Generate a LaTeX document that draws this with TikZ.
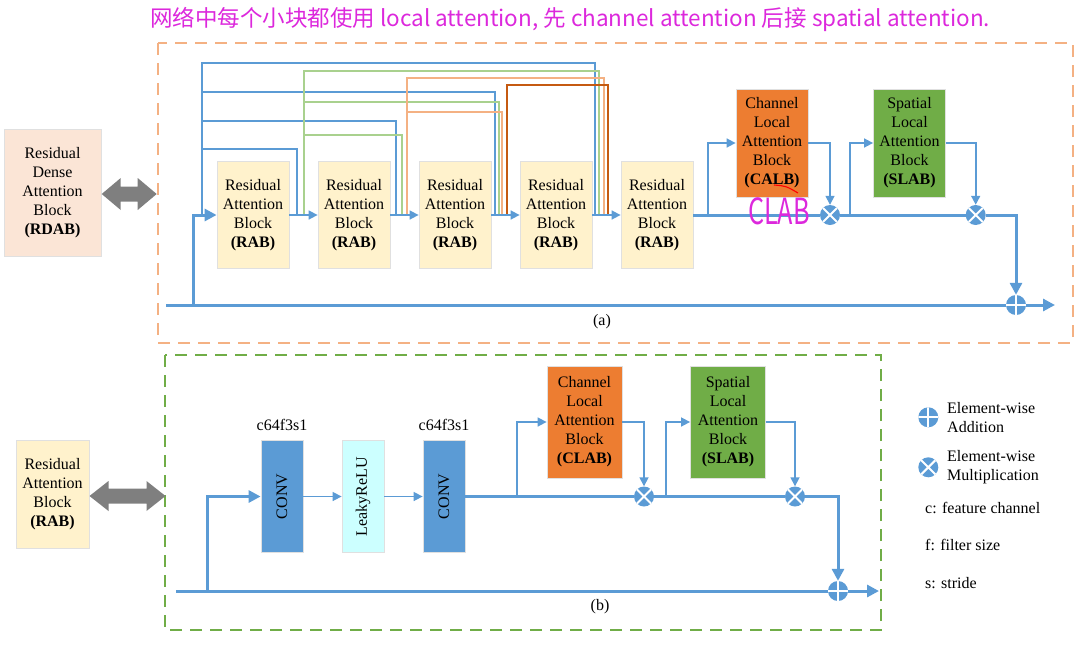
\documentclass[tikz,border=0pt]{standalone}
\usepackage{graphicx}
\usepackage{fontspec}
\setmainfont{Liberation Serif}
\newfontfamily\cjk{Noto Sans CJK SC}
\usetikzlibrary{arrows.meta,calc}
\definecolor{lblue}{HTML}{5B9BD5}
\definecolor{rabfill}{HTML}{FFF2CC}
\definecolor{rdabfill}{HTML}{FBE5D6}
\definecolor{calbfill}{HTML}{ED7D31}
\definecolor{slabfill}{HTML}{70AD47}
\definecolor{leakyfill}{HTML}{CCFFFF}
\definecolor{dashor}{HTML}{F4B183}
\definecolor{dashgr}{HTML}{70AD47}
\definecolor{tapgreen}{HTML}{A9D18E}
\definecolor{tapsalmon}{HTML}{F4B183}
\definecolor{tapdark}{HTML}{C55A11}
\definecolor{garrow}{HTML}{7F7F7F}
\definecolor{hand}{RGB}{220,40,220}
\tikzset{
  blk/.style={draw=black!12, line width=0.8pt, align=center, inner sep=0pt,
    font=\fontsize{16}{19}\selectfont},
  rab/.style={blk, fill=rabfill, minimum width=72pt, minimum height=107pt},
  att/.style={blk, minimum width=72pt, minimum height=108pt},
  attb/.style={blk, minimum width=75pt, minimum height=112pt},
  conv/.style={blk, minimum width=42pt, minimum height=112pt},
  ln/.style={draw=lblue, line width=1.6pt},
  lnk/.style={draw=lblue, line width=3pt},
  arr/.style={-{Triangle[length=9pt,width=9pt]}},
  arrk/.style={-{Triangle[length=12pt,width=12pt]}},
  tap/.style={line width=1.5pt},
  opc/.style={circle, fill=lblue, minimum size=20pt, inner sep=0pt},
  addc/.style={opc, path picture={\draw[white,line width=2pt]
    (path picture bounding box.north) -- (path picture bounding box.south)
    (path picture bounding box.west) -- (path picture bounding box.east);}},
  mulc/.style={opc, path picture={\draw[white,line width=2pt]
    (path picture bounding box.north west) -- (path picture bounding box.south east)
    (path picture bounding box.north east) -- (path picture bounding box.south west);}},
  lbl/.style={font=\fontsize{16}{19}\selectfont, inner sep=0pt},
  leg/.style={font=\fontsize{16}{19}\selectfont, inner sep=0pt, align=left, anchor=west},
}
\begin{document}
\begin{tikzpicture}[x=1pt,y=-1pt]
\useasboundingbox (0,0) rectangle (1087,651);

% handwritten note
\node[anchor=west, text=hand, font=\cjk\fontsize{22.5}{22.5}\selectfont, inner sep=0pt] (note) at (150,19)
  {网络中每个小块都使用 local attention, 先 channel attention 后接 spatial attention.};

% dashed frames
\draw[dashor, line width=2pt, dash pattern=on 12pt off 8pt] (157.7,43.3) rectangle (1072.7,342.7);
\draw[dashgr, line width=2pt, dash pattern=on 12pt off 8pt] (165,355) rectangle (881,630);

% ---------- (a) ----------
\node[blk, fill=rdabfill, minimum width=97pt, minimum height=127pt] (rdab) at (52.5,192.5)
  {Residual\\Dense\\Attention\\Block\\\textbf{(RDAB)}};
\fill[garrow] (101.7,194) -- (120.7,178) -- (120.7,186.5) -- (137.7,186.5) -- (137.7,178) -- (156.7,194)
  -- (137.7,210) -- (137.7,201.5) -- (120.7,201.5) -- (120.7,210) -- cycle;

\foreach \i/\x in {1/253,2/354,3/455,4/556,5/657}{
  \node[rab] (rab\i) at (\x,215) {Residual\\Attention\\Block\\\textbf{(RAB)}};
}
\node[att, fill=calbfill] (calb) at (772,143) {Channel\\Local\\Attention\\Block\\\textbf{(CALB)}};
\node[att, fill=slabfill] (slab) at (909.5,143) {Spatial\\Local\\Attention\\Block\\\textbf{(SLAB)}};
\node[mulc] (mA1) at (830,215) {};
\node[mulc] (mA2) at (975.7,215) {};
\node[addc] (aA) at (1016,305) {};
\coordinate (inA) at (166,305);
\coordinate (jA) at (193,305);
\coordinate (outA) at (1055,305);
\coordinate (bA1) at (708,215);
\coordinate (bA2) at (850,215);

% dense taps
\draw[tap, lblue] (202,215) -- (202,63) -| (595,215);
\draw[tap, lblue] (202,92) -| (495,215);
\draw[tap, lblue] (202,121) -| (396,215);
\draw[tap, lblue] (202,149) -| (297,215);
\draw[tap, tapgreen] (304,215) -- (304,71) -| (599,215);
\draw[tap, tapgreen] (304,102) -| (499,215);
\draw[tap, tapgreen] (304,135) -| (402,215);
\draw[tap, tapsalmon] (407,215) -- (407,78) -| (604,215);
\draw[tap, tapsalmon] (407,112) -| (502,215);
\draw[tap, tapdark] (507,215) -- (507,85) -| (608,215);

% main path
\draw[lnk] (inA) -- (aA.west);
\draw[lnk, arrk] (aA.east) -- (outA);
\draw[lnk, arrk] (jA) |- (rab1.west);
\draw[ln, arr] (rab1.east) -- (rab2.west);
\draw[ln, arr] (rab2.east) -- (rab3.west);
\draw[ln, arr] (rab3.east) -- (rab4.west);
\draw[ln, arr] (rab4.east) -- (rab5.west);
\draw[lnk] (rab5.east) -- (mA1.west);
\draw[lnk] (mA1.east) -- (mA2.west);
\draw[lnk, arrk] (mA2.east) -| (aA.north);
\draw[ln, arr] (bA1) |- (calb.west);
\draw[ln, arr] (calb.east) -| (mA1.north);
\draw[ln, arr] (bA2) |- (slab.west);
\draw[ln, arr] (slab.east) -| (mA2.north);
\node[lbl] (capa) at (602,322) {(a)};

% handwritten correction
\draw[red, line width=1.1pt] (774,185) .. controls (786,186) .. (798,193);
\node[text=hand, font=\cjk\fontsize{36}{36}\selectfont, inner sep=0pt] (clabnote) at (779,211) {\scalebox{0.7}[1]{CLAB}};

% ---------- (b) ----------
\node[blk, fill=rabfill, minimum width=73pt, minimum height=108pt] (rabL) at (52.5,494)
  {Residual\\Attention\\Block\\\textbf{(RAB)}};
\fill[garrow] (89.5,496) -- (108.5,481) -- (108.5,488.5) -- (146.5,488.5) -- (146.5,481) -- (165.5,496)
  -- (146.5,511) -- (146.5,503.5) -- (108.5,503.5) -- (108.5,511) -- cycle;

\node[conv, fill=lblue] (conv1) at (282,496.5) {\rotatebox{90}{CONV}};
\node[conv, fill=leakyfill] (leaky) at (363,496.5) {\rotatebox{90}{LeakyReLU}};
\node[conv, fill=lblue] (conv2) at (444,496.5) {\rotatebox{90}{CONV}};
\node[lbl, anchor=south] (c1) at ($(conv1.north)+(0,-9)$) {c64f3s1};
\node[lbl, anchor=south] (c2) at ($(conv2.north)+(0,-9)$) {c64f3s1};
\node[attb, fill=calbfill] (clab) at (584.5,422) {Channel\\Local\\Attention\\Block\\\textbf{(CLAB)}};
\node[attb, fill=slabfill] (slabb) at (728,422) {Spatial\\Local\\Attention\\Block\\\textbf{(SLAB)}};
\node[mulc] (mB1) at (644,496.5) {};
\node[mulc] (mB2) at (795,496.5) {};
\node[addc] (aB) at (838,591) {};
\coordinate (inB) at (176,591);
\coordinate (jB) at (207,591);
\coordinate (outB) at (879,591);
\coordinate (bB1) at (517,496.5);
\coordinate (bB2) at (666,496.5);

\draw[lnk] (inB) -- (aB.west);
\draw[lnk, arrk] (aB.east) -- (outB);
\draw[lnk, arrk] (jB) |- (conv1.west);
\draw[ln, arr] (conv1.east) -- (leaky.west);
\draw[ln, arr] (leaky.east) -- (conv2.west);
\draw[lnk] (conv2.east) -- (mB1.west);
\draw[lnk] (mB1.east) -- (mB2.west);
\draw[lnk, arrk] (mB2.east) -| (aB.north);
\draw[ln, arr] (bB1) |- (clab.west);
\draw[ln, arr] (clab.east) -| (mB1.north);
\draw[ln, arr] (bB2) |- (slabb.west);
\draw[ln, arr] (slabb.east) -| (mB2.north);
\node[lbl] (capb) at (600,607) {(b)};

% ---------- legend ----------
\node[addc] (lgA) at (928.3,417.3) {};
\node[leg] (lgAt) at (947,417.5) {Element-wise\\Addition};
\node[mulc] (lgM) at (928.3,467.3) {};
\node[leg] (lgMt) at (947,467) {Element-wise\\Multiplication};
\node[leg] (lgc) at (925,507.5) {c: feature channel};
\node[leg] (lgf) at (925,545) {f: filter size};
\node[leg] (lgs) at (925,583) {s: stride};
\end{tikzpicture}
\end{document}
